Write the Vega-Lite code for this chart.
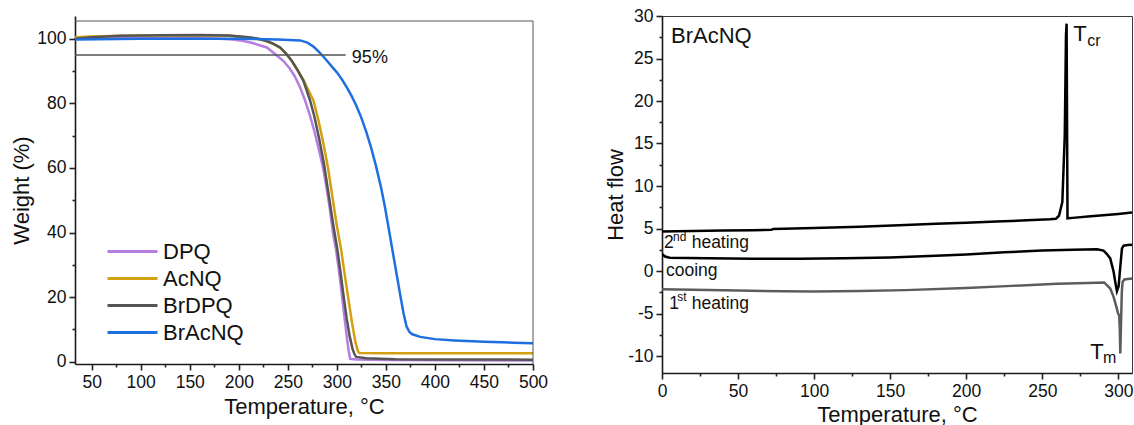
{
  "$schema": "https://vega.github.io/schema/vega-lite/v6.json",
  "padding": {"left": 10, "top": 6, "right": 0, "bottom": 0},
  "spacing": 56,
  "resolve": {"scale": {"color": "independent"}, "legend": {"color": "independent"}},
  "datasets": {
    "tga": [
      {"sample": "DPQ", "t": 33, "w": 100.0}, {"sample": "DPQ", "t": 60, "w": 100.1}, {"sample": "DPQ", "t": 100, "w": 100.2}, {"sample": "DPQ", "t": 150, "w": 100.2}, {"sample": "DPQ", "t": 180, "w": 100.0}, {"sample": "DPQ", "t": 194, "w": 99.8}, {"sample": "DPQ", "t": 205, "w": 99.3}, {"sample": "DPQ", "t": 215, "w": 98.6}, {"sample": "DPQ", "t": 222, "w": 97.9}, {"sample": "DPQ", "t": 228.6, "w": 97.3}, {"sample": "DPQ", "t": 237, "w": 95.3}, {"sample": "DPQ", "t": 245.6, "w": 93.1}, {"sample": "DPQ", "t": 252, "w": 90.8}, {"sample": "DPQ", "t": 257, "w": 88.4}, {"sample": "DPQ", "t": 262.6, "w": 84.9}, {"sample": "DPQ", "t": 267.7, "w": 80.8}, {"sample": "DPQ", "t": 272, "w": 76.8}, {"sample": "DPQ", "t": 277, "w": 71.5}, {"sample": "DPQ", "t": 282, "w": 65.3}, {"sample": "DPQ", "t": 286, "w": 60}, {"sample": "DPQ", "t": 290, "w": 53}, {"sample": "DPQ", "t": 293, "w": 47}, {"sample": "DPQ", "t": 296, "w": 40}, {"sample": "DPQ", "t": 299.3, "w": 34.4}, {"sample": "DPQ", "t": 302, "w": 28.5}, {"sample": "DPQ", "t": 305, "w": 21}, {"sample": "DPQ", "t": 307.5, "w": 14.5}, {"sample": "DPQ", "t": 310, "w": 8}, {"sample": "DPQ", "t": 312, "w": 3.5}, {"sample": "DPQ", "t": 313.6, "w": 0.9}, {"sample": "DPQ", "t": 320, "w": 0.7}, {"sample": "DPQ", "t": 350, "w": 0.55}, {"sample": "DPQ", "t": 400, "w": 0.45}, {"sample": "DPQ", "t": 500, "w": 0.4},

      {"sample": "AcNQ", "t": 33, "w": 100.5}, {"sample": "AcNQ", "t": 50, "w": 100.7}, {"sample": "AcNQ", "t": 80, "w": 100.9}, {"sample": "AcNQ", "t": 120, "w": 101.0}, {"sample": "AcNQ", "t": 160, "w": 101.0}, {"sample": "AcNQ", "t": 190, "w": 100.9}, {"sample": "AcNQ", "t": 210, "w": 100.4}, {"sample": "AcNQ", "t": 220, "w": 99.9}, {"sample": "AcNQ", "t": 228.6, "w": 99.2}, {"sample": "AcNQ", "t": 235, "w": 98.4}, {"sample": "AcNQ", "t": 242.2, "w": 97.2}, {"sample": "AcNQ", "t": 248, "w": 95.5}, {"sample": "AcNQ", "t": 254.1, "w": 93.2}, {"sample": "AcNQ", "t": 260, "w": 90.4}, {"sample": "AcNQ", "t": 266, "w": 87.2}, {"sample": "AcNQ", "t": 276.2, "w": 80.8}, {"sample": "AcNQ", "t": 281, "w": 75}, {"sample": "AcNQ", "t": 286, "w": 68}, {"sample": "AcNQ", "t": 291, "w": 60}, {"sample": "AcNQ", "t": 295.5, "w": 51}, {"sample": "AcNQ", "t": 299.5, "w": 43}, {"sample": "AcNQ", "t": 304.5, "w": 34.4}, {"sample": "AcNQ", "t": 308.5, "w": 26}, {"sample": "AcNQ", "t": 312, "w": 19}, {"sample": "AcNQ", "t": 315.5, "w": 12}, {"sample": "AcNQ", "t": 319, "w": 6}, {"sample": "AcNQ", "t": 321.5, "w": 3.2}, {"sample": "AcNQ", "t": 323, "w": 2.7}, {"sample": "AcNQ", "t": 350, "w": 2.65}, {"sample": "AcNQ", "t": 500, "w": 2.6},

      {"sample": "BrDPQ", "t": 33, "w": 100.0}, {"sample": "BrDPQ", "t": 50, "w": 100.5}, {"sample": "BrDPQ", "t": 80, "w": 100.9}, {"sample": "BrDPQ", "t": 120, "w": 101.1}, {"sample": "BrDPQ", "t": 160, "w": 101.2}, {"sample": "BrDPQ", "t": 190, "w": 101.0}, {"sample": "BrDPQ", "t": 210, "w": 100.5}, {"sample": "BrDPQ", "t": 220, "w": 100.0}, {"sample": "BrDPQ", "t": 228.6, "w": 99.3}, {"sample": "BrDPQ", "t": 235, "w": 98.5}, {"sample": "BrDPQ", "t": 242.2, "w": 97.3}, {"sample": "BrDPQ", "t": 248, "w": 95.5}, {"sample": "BrDPQ", "t": 254.1, "w": 93.1}, {"sample": "BrDPQ", "t": 260, "w": 90.2}, {"sample": "BrDPQ", "t": 266, "w": 86.9}, {"sample": "BrDPQ", "t": 272.8, "w": 80.8}, {"sample": "BrDPQ", "t": 277, "w": 76}, {"sample": "BrDPQ", "t": 282, "w": 69}, {"sample": "BrDPQ", "t": 287, "w": 61}, {"sample": "BrDPQ", "t": 292, "w": 51}, {"sample": "BrDPQ", "t": 296, "w": 43}, {"sample": "BrDPQ", "t": 300.7, "w": 34.4}, {"sample": "BrDPQ", "t": 304, "w": 27}, {"sample": "BrDPQ", "t": 307, "w": 20}, {"sample": "BrDPQ", "t": 310, "w": 13.5}, {"sample": "BrDPQ", "t": 313, "w": 8}, {"sample": "BrDPQ", "t": 316, "w": 4}, {"sample": "BrDPQ", "t": 318, "w": 2.3}, {"sample": "BrDPQ", "t": 319.7, "w": 1.5}, {"sample": "BrDPQ", "t": 330, "w": 1.1}, {"sample": "BrDPQ", "t": 360, "w": 0.75}, {"sample": "BrDPQ", "t": 400, "w": 0.7}, {"sample": "BrDPQ", "t": 500, "w": 0.65},

      {"sample": "BrAcNQ", "t": 33, "w": 99.8}, {"sample": "BrAcNQ", "t": 100, "w": 100.0}, {"sample": "BrAcNQ", "t": 200, "w": 100.0}, {"sample": "BrAcNQ", "t": 240, "w": 99.8}, {"sample": "BrAcNQ", "t": 262.6, "w": 99.5}, {"sample": "BrAcNQ", "t": 270, "w": 98.8}, {"sample": "BrAcNQ", "t": 276, "w": 97.6}, {"sample": "BrAcNQ", "t": 281, "w": 96.2}, {"sample": "BrAcNQ", "t": 286, "w": 94.6}, {"sample": "BrAcNQ", "t": 291, "w": 92.8}, {"sample": "BrAcNQ", "t": 296, "w": 91.0}, {"sample": "BrAcNQ", "t": 300, "w": 89.6}, {"sample": "BrAcNQ", "t": 305, "w": 87.5}, {"sample": "BrAcNQ", "t": 310, "w": 85.0}, {"sample": "BrAcNQ", "t": 315, "w": 82.3}, {"sample": "BrAcNQ", "t": 320, "w": 79.2}, {"sample": "BrAcNQ", "t": 325, "w": 75.5}, {"sample": "BrAcNQ", "t": 330, "w": 71.2}, {"sample": "BrAcNQ", "t": 335, "w": 66.2}, {"sample": "BrAcNQ", "t": 340, "w": 60.5}, {"sample": "BrAcNQ", "t": 345, "w": 54}, {"sample": "BrAcNQ", "t": 349, "w": 48}, {"sample": "BrAcNQ", "t": 353, "w": 41}, {"sample": "BrAcNQ", "t": 357, "w": 34}, {"sample": "BrAcNQ", "t": 361, "w": 27}, {"sample": "BrAcNQ", "t": 365, "w": 20}, {"sample": "BrAcNQ", "t": 368, "w": 15}, {"sample": "BrAcNQ", "t": 371, "w": 11}, {"sample": "BrAcNQ", "t": 374, "w": 9.2}, {"sample": "BrAcNQ", "t": 377, "w": 8.5}, {"sample": "BrAcNQ", "t": 385, "w": 7.7}, {"sample": "BrAcNQ", "t": 400, "w": 7.0}, {"sample": "BrAcNQ", "t": 420, "w": 6.6}, {"sample": "BrAcNQ", "t": 450, "w": 6.2}, {"sample": "BrAcNQ", "t": 480, "w": 5.9}, {"sample": "BrAcNQ", "t": 500, "w": 5.75}
    ],
    "dsc": [
      {"run": "2nd heating", "t": 0, "h": 4.66}, {"run": "2nd heating", "t": 20, "h": 4.72}, {"run": "2nd heating", "t": 40, "h": 4.76}, {"run": "2nd heating", "t": 60, "h": 4.8}, {"run": "2nd heating", "t": 72, "h": 4.85}, {"run": "2nd heating", "t": 73, "h": 4.95}, {"run": "2nd heating", "t": 100, "h": 5.05}, {"run": "2nd heating", "t": 130, "h": 5.2}, {"run": "2nd heating", "t": 160, "h": 5.4}, {"run": "2nd heating", "t": 180, "h": 5.55}, {"run": "2nd heating", "t": 200, "h": 5.68}, {"run": "2nd heating", "t": 220, "h": 5.82}, {"run": "2nd heating", "t": 240, "h": 5.96}, {"run": "2nd heating", "t": 255, "h": 6.08}, {"run": "2nd heating", "t": 259, "h": 6.15}, {"run": "2nd heating", "t": 261, "h": 6.5}, {"run": "2nd heating", "t": 263.2, "h": 8.1}, {"run": "2nd heating", "t": 264.8, "h": 16}, {"run": "2nd heating", "t": 265.6, "h": 27.8}, {"run": "2nd heating", "t": 266.0, "h": 29.1}, {"run": "2nd heating", "t": 266.6, "h": 6.2}, {"run": "2nd heating", "t": 270, "h": 6.25}, {"run": "2nd heating", "t": 280, "h": 6.4}, {"run": "2nd heating", "t": 290, "h": 6.55}, {"run": "2nd heating", "t": 300, "h": 6.7}, {"run": "2nd heating", "t": 309, "h": 6.87},

      {"run": "cooing", "t": 0, "h": 2.0}, {"run": "cooing", "t": 2, "h": 1.7}, {"run": "cooing", "t": 5, "h": 1.55}, {"run": "cooing", "t": 30, "h": 1.5}, {"run": "cooing", "t": 60, "h": 1.45}, {"run": "cooing", "t": 90, "h": 1.45}, {"run": "cooing", "t": 120, "h": 1.5}, {"run": "cooing", "t": 150, "h": 1.6}, {"run": "cooing", "t": 180, "h": 1.8}, {"run": "cooing", "t": 200, "h": 1.95}, {"run": "cooing", "t": 225, "h": 2.2}, {"run": "cooing", "t": 250, "h": 2.4}, {"run": "cooing", "t": 270, "h": 2.5}, {"run": "cooing", "t": 286, "h": 2.55}, {"run": "cooing", "t": 290.3, "h": 2.4}, {"run": "cooing", "t": 292.5, "h": 2.0}, {"run": "cooing", "t": 294.7, "h": 1.48}, {"run": "cooing", "t": 296.9, "h": -0.09}, {"run": "cooing", "t": 298, "h": -1.3}, {"run": "cooing", "t": 299.1, "h": -2.37}, {"run": "cooing", "t": 300.2, "h": -1.8}, {"run": "cooing", "t": 301.3, "h": 0.5}, {"run": "cooing", "t": 302.4, "h": 2.66}, {"run": "cooing", "t": 303.5, "h": 2.98}, {"run": "cooing", "t": 306, "h": 3.05}, {"run": "cooing", "t": 309, "h": 3.1},

      {"run": "1st heating", "t": 0, "h": -2.15}, {"run": "1st heating", "t": 20, "h": -2.2}, {"run": "1st heating", "t": 50, "h": -2.3}, {"run": "1st heating", "t": 80, "h": -2.38}, {"run": "1st heating", "t": 100, "h": -2.4}, {"run": "1st heating", "t": 130, "h": -2.35}, {"run": "1st heating", "t": 160, "h": -2.25}, {"run": "1st heating", "t": 200, "h": -2.0}, {"run": "1st heating", "t": 230, "h": -1.75}, {"run": "1st heating", "t": 260, "h": -1.5}, {"run": "1st heating", "t": 280, "h": -1.4}, {"run": "1st heating", "t": 290.7, "h": -1.35}, {"run": "1st heating", "t": 294.7, "h": -2.06}, {"run": "1st heating", "t": 296.9, "h": -3.04}, {"run": "1st heating", "t": 298.7, "h": -4.2}, {"run": "1st heating", "t": 299.7, "h": -4.9}, {"run": "1st heating", "t": 300.6, "h": -5.3}, {"run": "1st heating", "t": 301.0, "h": -7.0}, {"run": "1st heating", "t": 301.3, "h": -9.7}, {"run": "1st heating", "t": 301.8, "h": -6.0}, {"run": "1st heating", "t": 302.3, "h": -2.5}, {"run": "1st heating", "t": 302.8, "h": -1.3}, {"run": "1st heating", "t": 304, "h": -1.0}, {"run": "1st heating", "t": 309, "h": -0.88}
    ]
  },
  "hconcat": [
    {
      "width": 458,
      "height": 348,
      "view": {"stroke": null},
      "resolve": {"axis": {"x": "independent", "y": "independent"}},
      "layer": [
        {
          "data": {"name": "tga"},
          "mark": {"type": "line", "strokeWidth": 2.5, "clip": true},
          "encoding": {
            "x": {
              "field": "t", "type": "quantitative",
              "scale": {"domain": [33, 500], "nice": false, "zero": false},
              "axis": {
                "title": "Temperature, °C", "orient": "bottom",
                "values": [50, 100, 150, 200, 250, 300, 350, 400, 450, 500],
                "ticks": true, "tickSize": 6,
                "labelOverlap": false, "labelFlush": false, "titlePadding": 6
              }
            },
            "y": {
              "field": "w", "type": "quantitative",
              "scale": {"domain": [-0.7, 107.05], "nice": false, "zero": false},
              "axis": {
                "title": "Weight (%)", "orient": "left",
                "values": [0, 20, 40, 60, 80, 100],
                "ticks": true, "tickSize": 6,
                "labelOverlap": false, "titlePadding": 3
              }
            },
            "color": {
              "field": "sample", "type": "nominal",
              "scale": {"domain": ["DPQ", "AcNQ", "BrDPQ", "BrAcNQ"], "range": ["#b47fe0", "#d4a00f", "#555555", "#1e6fdf"]},
              "legend": {
                "title": null, "orient": "none", "legendX": 31, "legendY": 223,
                "symbolType": "stroke", "symbolSize": 2500, "symbolStrokeWidth": 3,
                "labelFontSize": 22, "labelFont": "Liberation Sans", "labelColor": "#111",
                "clipHeight": 25, "rowPadding": 2, "labelOffset": 4, "padding": 0
              }
            }
          }
        },
        {
          "data": {"values": [{"t": 33, "t_end": 309, "w": 95}]},
          "mark": {"type": "rule", "color": "#555555", "strokeWidth": 1.5},
          "encoding": {
            "x": {
              "field": "t", "type": "quantitative",
              "axis": {"orient": "bottom", "values": [75, 125, 175, 225, 275, 325, 375, 425, 475], "labels": false, "domain": false, "title": null, "ticks": true, "tickSize": 3}
            },
            "x2": {"field": "t_end"},
            "y": {
              "field": "w", "type": "quantitative",
              "axis": {"orient": "left", "values": [10, 30, 50, 70, 90], "labels": false, "domain": false, "title": null, "ticks": true, "tickSize": 3}
            }
          }
        },
        {
          "data": {"values": [{"t": 33, "t_end": 500, "w": 105.5}]},
          "mark": {"type": "rule", "color": "#555555", "strokeWidth": 1},
          "encoding": {
            "x": {"field": "t", "type": "quantitative", "axis": null},
            "x2": {"field": "t_end"},
            "y": {"field": "w", "type": "quantitative", "axis": null}
          }
        },
        {
          "data": {"values": [{"t": 500, "w": -0.7, "w_end": 105.5}]},
          "mark": {"type": "rule", "color": "#555555", "strokeWidth": 1},
          "encoding": {
            "x": {"field": "t", "type": "quantitative", "axis": null},
            "y": {"field": "w", "type": "quantitative", "axis": null},
            "y2": {"field": "w_end"}
          }
        },
        {
          "data": {"values": [{"t": 315.3, "w": 92.6, "label": "95%"}]},
          "mark": {"type": "text", "align": "left", "baseline": "alphabetic", "fontSize": 18, "font": "Liberation Sans", "color": "#111"},
          "encoding": {
            "x": {"field": "t", "type": "quantitative", "axis": null},
            "y": {"field": "w", "type": "quantitative", "axis": null},
            "text": {"field": "label"}
          }
        }
      ]
    },
    {
      "width": 470,
      "height": 357,
      "resolve": {"axis": {"x": "independent", "y": "independent"}},
      "layer": [
        {
          "data": {"name": "dsc"},
          "mark": {"type": "line", "strokeWidth": 2.5, "clip": true},
          "encoding": {
            "x": {
              "field": "t", "type": "quantitative",
              "scale": {"domain": [0, 309], "nice": false, "zero": false},
              "axis": {
                "title": "Temperature, °C", "orient": "bottom",
                "values": [0, 50, 100, 150, 200, 250, 300],
                "ticks": true, "tickSize": 6,
                "labelOverlap": false, "labelFlush": false, "titlePadding": 5
              }
            },
            "y": {
              "field": "h", "type": "quantitative",
              "scale": {"domain": [-12, 30], "nice": false, "zero": false},
              "axis": {
                "title": "Heat flow", "orient": "left",
                "values": [-10, -5, 0, 5, 10, 15, 20, 25, 30],
                "labelExpr": "toString(datum.value)",
                "ticks": true, "tickSize": 6,
                "labelOverlap": false, "titlePadding": 0
              }
            },
            "color": {
              "field": "run", "type": "nominal",
              "scale": {"domain": ["1st heating", "cooing", "2nd heating"], "range": ["#5c5c5c", "#000000", "#000000"]},
              "legend": null
            }
          }
        },
        {
          "data": {"values": [
            {"t": 5.9, "h": 26.8, "label": "BrAcNQ"},
            {"t": 270.4, "h": 27.05, "label": "T"},
            {"t": 281.6, "h": -10.32, "label": "T"}
          ]},
          "mark": {"type": "text", "align": "left", "baseline": "alphabetic", "fontSize": 22, "font": "Liberation Sans", "color": "#111"},
          "encoding": {
            "x": {
              "field": "t", "type": "quantitative",
              "axis": {"orient": "bottom", "values": [25, 75, 125, 175, 225, 275], "labels": false, "domain": false, "title": null, "ticks": true, "tickSize": 3}
            },
            "y": {
              "field": "h", "type": "quantitative",
              "axis": {"orient": "left", "values": [-7.5, -2.5, 2.5, 7.5, 12.5, 17.5, 22.5, 27.5], "labels": false, "domain": false, "title": null, "ticks": true, "tickSize": 3}
            },
            "text": {"field": "label"}
          }
        },
        {
          "data": {"values": [
            {"t": 279.6, "h": 26.46, "label": "cr"},
            {"t": 289.9, "h": -10.79, "label": "m"}
          ]},
          "mark": {"type": "text", "align": "left", "baseline": "alphabetic", "fontSize": 16, "font": "Liberation Sans", "color": "#111"},
          "encoding": {
            "x": {"field": "t", "type": "quantitative", "axis": null},
            "y": {"field": "h", "type": "quantitative", "axis": null},
            "text": {"field": "label"}
          }
        },
        {
          "data": {"values": [
            {"t": 1.3, "h": 2.66, "label": "2"},
            {"t": 19.5, "h": 2.66, "label": "heating"},
            {"t": 2.6, "h": -0.56, "label": "cooing"},
            {"t": 4.8, "h": -4.49, "label": "1"},
            {"t": 19.5, "h": -4.49, "label": "heating"}
          ]},
          "mark": {"type": "text", "align": "left", "baseline": "alphabetic", "fontSize": 17.5, "font": "Liberation Sans", "color": "#111"},
          "encoding": {
            "x": {"field": "t", "type": "quantitative", "axis": null},
            "y": {"field": "h", "type": "quantitative", "axis": null},
            "text": {"field": "label"}
          }
        },
        {
          "data": {"values": [
            {"t": 7.2, "h": 3.53, "label": "nd"},
            {"t": 10.1, "h": -3.55, "label": "st"}
          ]},
          "mark": {"type": "text", "align": "left", "baseline": "alphabetic", "fontSize": 12, "font": "Liberation Sans", "color": "#111"},
          "encoding": {
            "x": {"field": "t", "type": "quantitative", "axis": null},
            "y": {"field": "h", "type": "quantitative", "axis": null},
            "text": {"field": "label"}
          }
        }
      ]
    }
  ],
  "config": {
    "font": "Liberation Sans",
    "view": {"stroke": "#3a3a3a", "strokeWidth": 1},
    "axis": {
      "grid": false, "ticks": true,
      "labelFont": "Liberation Sans", "labelFontSize": 17.5, "labelColor": "#111",
      "titleFont": "Liberation Sans", "titleFontSize": 22, "titleFontWeight": "normal", "titleColor": "#111",
      "domainColor": "#1a1a1a", "domainWidth": 1.6,
      "tickColor": "#222222", "tickWidth": 1.6, "tickOpacity": 1,
      "labelPadding": 3
    }
  }
}
